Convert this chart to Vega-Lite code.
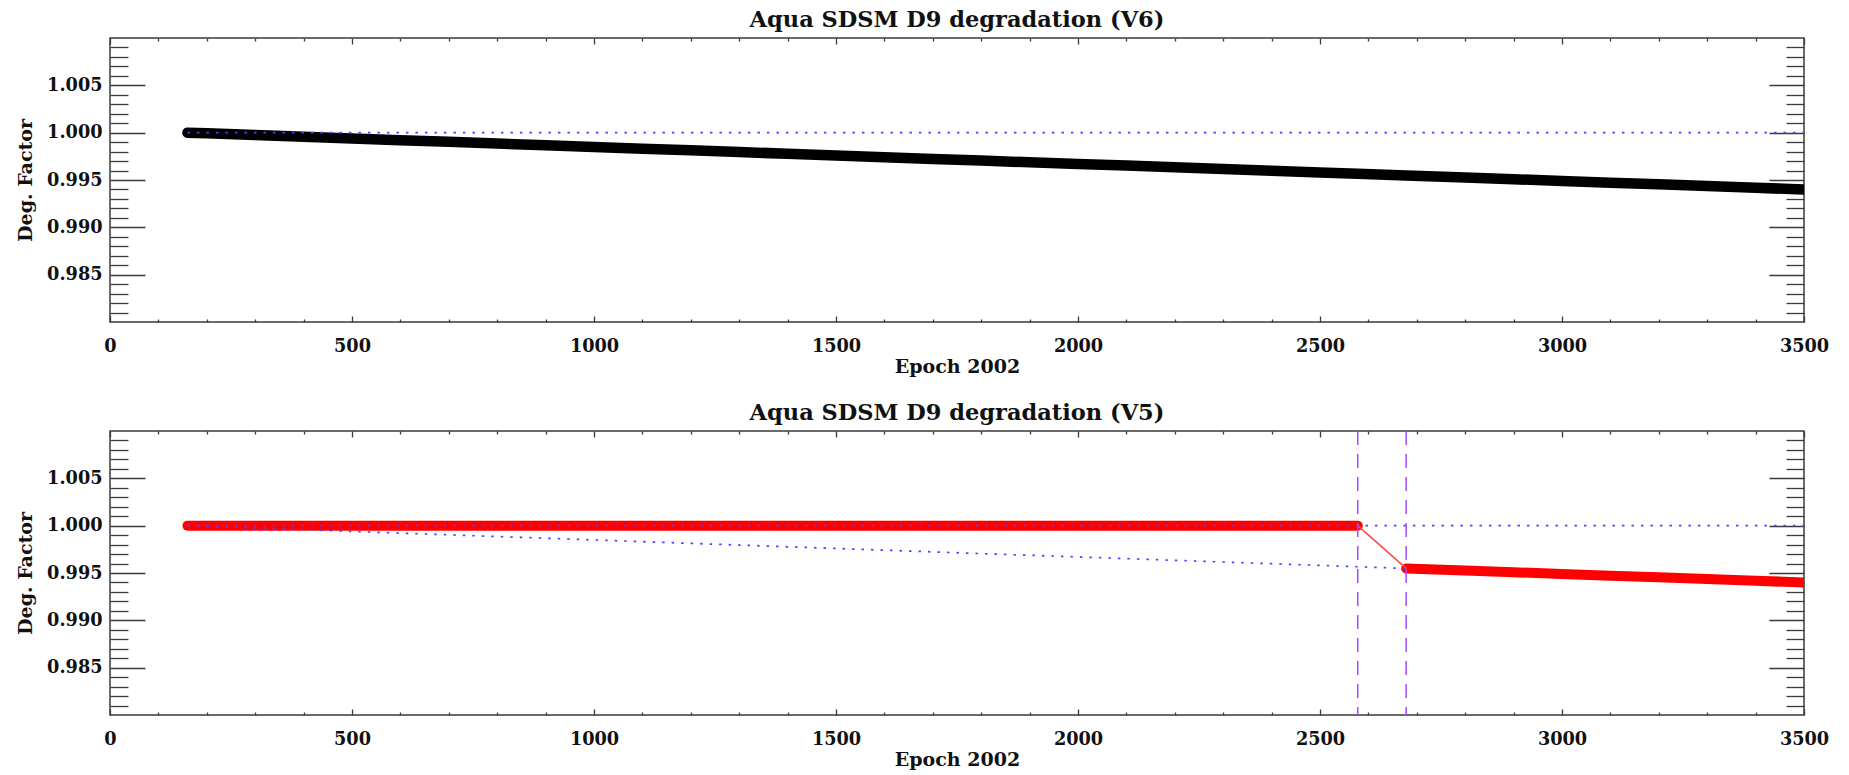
{
  "$schema": "https://vega.github.io/schema/vega-lite/v6.json",
  "background": "white",
  "padding": {"left": 15, "top": 8, "right": 5, "bottom": 0},
  "spacing": 23,
  "datasets": {
    "v6": [
      {"epoch": 160, "deg": 1.0},
      {"epoch": 200, "deg": 0.99993},
      {"epoch": 300, "deg": 0.99975},
      {"epoch": 400, "deg": 0.99957},
      {"epoch": 500, "deg": 0.99939},
      {"epoch": 600, "deg": 0.99921},
      {"epoch": 700, "deg": 0.99903},
      {"epoch": 800, "deg": 0.99885},
      {"epoch": 900, "deg": 0.99867},
      {"epoch": 1000, "deg": 0.99849},
      {"epoch": 1100, "deg": 0.99831},
      {"epoch": 1200, "deg": 0.99813},
      {"epoch": 1300, "deg": 0.99795},
      {"epoch": 1400, "deg": 0.99777},
      {"epoch": 1500, "deg": 0.99759},
      {"epoch": 1600, "deg": 0.99741},
      {"epoch": 1700, "deg": 0.99723},
      {"epoch": 1800, "deg": 0.99705},
      {"epoch": 1900, "deg": 0.99687},
      {"epoch": 2000, "deg": 0.9967},
      {"epoch": 2100, "deg": 0.99652},
      {"epoch": 2200, "deg": 0.99634},
      {"epoch": 2300, "deg": 0.99616},
      {"epoch": 2400, "deg": 0.99598},
      {"epoch": 2500, "deg": 0.9958},
      {"epoch": 2578, "deg": 0.99566},
      {"epoch": 2678, "deg": 0.99548},
      {"epoch": 2800, "deg": 0.99526},
      {"epoch": 2900, "deg": 0.99508},
      {"epoch": 3000, "deg": 0.9949},
      {"epoch": 3100, "deg": 0.99472},
      {"epoch": 3200, "deg": 0.99454},
      {"epoch": 3300, "deg": 0.99436},
      {"epoch": 3400, "deg": 0.99418},
      {"epoch": 3500, "deg": 0.994}
    ],
    "v5": [
      {"epoch": 160, "deg": 1.0, "seg": "A"},
      {"epoch": 500, "deg": 1.0, "seg": "A"},
      {"epoch": 1000, "deg": 1.0, "seg": "A"},
      {"epoch": 1500, "deg": 1.0, "seg": "A"},
      {"epoch": 2000, "deg": 1.0, "seg": "A"},
      {"epoch": 2500, "deg": 1.0, "seg": "A"},
      {"epoch": 2578, "deg": 1.0, "seg": "A"},
      {"epoch": 2678, "deg": 0.99548, "seg": "B"},
      {"epoch": 2800, "deg": 0.99526, "seg": "B"},
      {"epoch": 2900, "deg": 0.99508, "seg": "B"},
      {"epoch": 3000, "deg": 0.9949, "seg": "B"},
      {"epoch": 3100, "deg": 0.99472, "seg": "B"},
      {"epoch": 3200, "deg": 0.99454, "seg": "B"},
      {"epoch": 3300, "deg": 0.99436, "seg": "B"},
      {"epoch": 3400, "deg": 0.99418, "seg": "B"},
      {"epoch": 3500, "deg": 0.994, "seg": "B"}
    ],
    "jump": [
      {"epoch": 2578, "deg": 1.0},
      {"epoch": 2678, "deg": 0.99548}
    ],
    "ref": [
      {"epoch": 160, "deg": 1.0},
      {"epoch": 3500, "deg": 1.0}
    ],
    "marks": [
      {"epoch": 2578},
      {"epoch": 2678}
    ]
  },
  "config": {
    "view": {"stroke": "#3a3a3a", "strokeWidth": 1.5},
    "axis": {
      "domain": false,
      "grid": false,
      "tickColor": "#3a3a3a",
      "tickWidth": 1.3,
      "labelFont": "DejaVu Serif",
      "labelFontWeight": "bold",
      "labelFontSize": 17.7,
      "labelColor": "#111111",
      "titleFont": "DejaVu Serif",
      "titleFontWeight": "bold",
      "titleFontSize": 19,
      "titleColor": "#111111"
    },
    "title": {
      "font": "DejaVu Serif",
      "fontSize": 22.5,
      "fontWeight": "bold",
      "color": "#111111",
      "anchor": "middle",
      "offset": 6
    }
  },
  "vconcat": [
    {
      "title": "Aqua SDSM D9 degradation (V6)",
      "width": 1694,
      "height": 284,
      "resolve": {"axis": {"x": "independent", "y": "independent"}},
      "layer": [
        {
          "data": {"name": "v6"},
          "mark": {"type": "line", "color": "black", "strokeWidth": 10.5, "strokeCap": "round", "strokeJoin": "round", "clip": true},
          "encoding": {
            "x": {"field": "epoch", "type": "quantitative", "scale": {"domain": [0, 3500], "nice": false, "zero": false},
              "axis": {"orient": "bottom", "values": [0, 500, 1000, 1500, 2000, 2500, 3000, 3500], "format": "d", "tickSize": -6, "labelPadding": 21, "title": "Epoch 2002", "titlePadding": 3, "labelFlush": false}},
            "y": {"field": "deg", "type": "quantitative", "scale": {"domain": [0.98, 1.01], "nice": false, "zero": false},
              "axis": {"orient": "left", "values": [0.985, 0.99, 0.995, 1.0, 1.005], "format": ".3f", "tickSize": -35, "labelPadding": 43, "title": "Deg. Factor", "titlePadding": 11}}
          }
        },
        {
          "data": {"name": "ref"},
          "mark": {"type": "line", "color": "#4646ff", "strokeWidth": 1.7, "strokeDash": [2.5, 7], "clip": true},
          "encoding": {
            "x": {"field": "epoch", "type": "quantitative", "scale": {"domain": [0, 3500], "nice": false, "zero": false},
              "axis": {"orient": "bottom", "values": [100, 200, 300, 400, 600, 700, 800, 900, 1100, 1200, 1300, 1400, 1600, 1700, 1800, 1900, 2100, 2200, 2300, 2400, 2600, 2700, 2800, 2900, 3100, 3200, 3300, 3400], "tickSize": -3, "labels": false, "title": null}},
            "y": {"field": "deg", "type": "quantitative", "scale": {"domain": [0.98, 1.01], "nice": false, "zero": false},
              "axis": {"orient": "left", "values": [0.981, 0.982, 0.983, 0.984, 0.986, 0.987, 0.988, 0.989, 0.991, 0.992, 0.993, 0.994, 0.996, 0.997, 0.998, 0.999, 1.001, 1.002, 1.003, 1.004, 1.006, 1.007, 1.008, 1.009], "tickSize": -18, "labels": false, "title": null}}
          }
        },
        {
          "data": {"name": "v6"},
          "mark": {"type": "point", "opacity": 0},
          "encoding": {
            "x": {"field": "epoch", "type": "quantitative", "scale": {"domain": [0, 3500], "nice": false, "zero": false},
              "axis": {"orient": "top", "values": [0, 500, 1000, 1500, 2000, 2500, 3000, 3500], "tickSize": -6, "labels": false, "title": null}},
            "y": {"field": "deg", "type": "quantitative", "scale": {"domain": [0.98, 1.01], "nice": false, "zero": false},
              "axis": {"orient": "right", "values": [0.985, 0.99, 0.995, 1.0, 1.005], "tickSize": -35, "labels": false, "title": null}}
          }
        },
        {
          "data": {"name": "v6"},
          "mark": {"type": "point", "opacity": 0},
          "encoding": {
            "x": {"field": "epoch", "type": "quantitative", "scale": {"domain": [0, 3500], "nice": false, "zero": false},
              "axis": {"orient": "top", "values": [100, 200, 300, 400, 600, 700, 800, 900, 1100, 1200, 1300, 1400, 1600, 1700, 1800, 1900, 2100, 2200, 2300, 2400, 2600, 2700, 2800, 2900, 3100, 3200, 3300, 3400], "tickSize": -3, "labels": false, "title": null}},
            "y": {"field": "deg", "type": "quantitative", "scale": {"domain": [0.98, 1.01], "nice": false, "zero": false},
              "axis": {"orient": "right", "values": [0.981, 0.982, 0.983, 0.984, 0.986, 0.987, 0.988, 0.989, 0.991, 0.992, 0.993, 0.994, 0.996, 0.997, 0.998, 0.999, 1.001, 1.002, 1.003, 1.004, 1.006, 1.007, 1.008, 1.009], "tickSize": -18, "labels": false, "title": null}}
          }
        }
      ]
    },
    {
      "title": "Aqua SDSM D9 degradation (V5)",
      "width": 1694,
      "height": 284,
      "resolve": {"axis": {"x": "independent", "y": "independent"}},
      "layer": [
        {
          "data": {"name": "v5"},
          "mark": {"type": "line", "color": "#ff0000", "strokeWidth": 10, "strokeCap": "round", "strokeJoin": "round", "clip": true},
          "encoding": {
            "detail": {"field": "seg"},
            "x": {"field": "epoch", "type": "quantitative", "scale": {"domain": [0, 3500], "nice": false, "zero": false},
              "axis": {"orient": "bottom", "values": [0, 500, 1000, 1500, 2000, 2500, 3000, 3500], "format": "d", "tickSize": -6, "labelPadding": 21, "title": "Epoch 2002", "titlePadding": 3, "labelFlush": false}},
            "y": {"field": "deg", "type": "quantitative", "scale": {"domain": [0.98, 1.01], "nice": false, "zero": false},
              "axis": {"orient": "left", "values": [0.985, 0.99, 0.995, 1.0, 1.005], "format": ".3f", "tickSize": -35, "labelPadding": 43, "title": "Deg. Factor", "titlePadding": 11}}
          }
        },
        {
          "data": {"name": "jump"},
          "mark": {"type": "line", "color": "#ff4a4a", "strokeWidth": 1.6},
          "encoding": {
            "x": {"field": "epoch", "type": "quantitative", "scale": {"domain": [0, 3500], "nice": false, "zero": false},
              "axis": {"orient": "bottom", "values": [100, 200, 300, 400, 600, 700, 800, 900, 1100, 1200, 1300, 1400, 1600, 1700, 1800, 1900, 2100, 2200, 2300, 2400, 2600, 2700, 2800, 2900, 3100, 3200, 3300, 3400], "tickSize": -3, "labels": false, "title": null}},
            "y": {"field": "deg", "type": "quantitative", "scale": {"domain": [0.98, 1.01], "nice": false, "zero": false},
              "axis": {"orient": "left", "values": [0.981, 0.982, 0.983, 0.984, 0.986, 0.987, 0.988, 0.989, 0.991, 0.992, 0.993, 0.994, 0.996, 0.997, 0.998, 0.999, 1.001, 1.002, 1.003, 1.004, 1.006, 1.007, 1.008, 1.009], "tickSize": -18, "labels": false, "title": null}}
          }
        },
        {
          "data": {"name": "v6"},
          "transform": [{"filter": "datum.epoch <= 2678"}],
          "mark": {"type": "line", "color": "#4646ff", "strokeWidth": 1.7, "strokeDash": [2.5, 7]},
          "encoding": {
            "x": {"field": "epoch", "type": "quantitative", "scale": {"domain": [0, 3500], "nice": false, "zero": false},
              "axis": {"orient": "top", "values": [0, 500, 1000, 1500, 2000, 2500, 3000, 3500], "tickSize": -6, "labels": false, "title": null}},
            "y": {"field": "deg", "type": "quantitative", "scale": {"domain": [0.98, 1.01], "nice": false, "zero": false},
              "axis": {"orient": "right", "values": [0.985, 0.99, 0.995, 1.0, 1.005], "tickSize": -35, "labels": false, "title": null}}
          }
        },
        {
          "data": {"name": "ref"},
          "mark": {"type": "line", "color": "#4646ff", "strokeWidth": 1.7, "strokeDash": [2.5, 7], "clip": true},
          "encoding": {
            "x": {"field": "epoch", "type": "quantitative", "scale": {"domain": [0, 3500], "nice": false, "zero": false},
              "axis": {"orient": "top", "values": [100, 200, 300, 400, 600, 700, 800, 900, 1100, 1200, 1300, 1400, 1600, 1700, 1800, 1900, 2100, 2200, 2300, 2400, 2600, 2700, 2800, 2900, 3100, 3200, 3300, 3400], "tickSize": -3, "labels": false, "title": null}},
            "y": {"field": "deg", "type": "quantitative", "scale": {"domain": [0.98, 1.01], "nice": false, "zero": false},
              "axis": {"orient": "right", "values": [0.981, 0.982, 0.983, 0.984, 0.986, 0.987, 0.988, 0.989, 0.991, 0.992, 0.993, 0.994, 0.996, 0.997, 0.998, 0.999, 1.001, 1.002, 1.003, 1.004, 1.006, 1.007, 1.008, 1.009], "tickSize": -18, "labels": false, "title": null}}
          }
        },
        {
          "data": {"name": "marks"},
          "mark": {"type": "rule", "color": "#a64df5", "strokeWidth": 1.5, "strokeDash": [14, 9]},
          "encoding": {
            "x": {"field": "epoch", "type": "quantitative", "scale": {"domain": [0, 3500], "nice": false, "zero": false}, "axis": null}
          }
        }
      ]
    }
  ]
}
